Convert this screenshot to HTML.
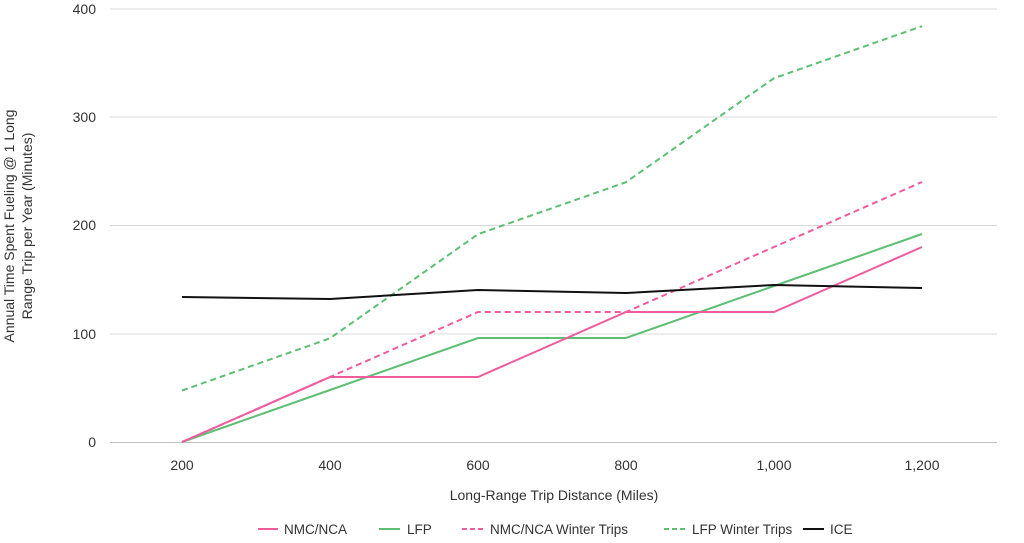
<!DOCTYPE html>
<html><head><meta charset="utf-8"><style>
body{margin:0;background:#fff;}
svg{display:block;font-family:"Liberation Sans",Arial,sans-serif;}
</style></head><body>
<svg width="1024" height="543" viewBox="0 0 1024 543">
<g stroke="#d9d9d9" stroke-width="1">
<line x1="110" y1="9" x2="997" y2="9"/>
<line x1="110" y1="117" x2="997" y2="117"/>
<line x1="110" y1="225.5" x2="997" y2="225.5"/>
<line x1="110" y1="334" x2="997" y2="334"/>
</g>
<line x1="110" y1="442.5" x2="997" y2="442.5" stroke="#bfbfbf" stroke-width="1"/>
<g font-size="14" fill="#333" text-anchor="end">
<text x="96" y="14">400</text>
<text x="96" y="122">300</text>
<text x="96" y="230">200</text>
<text x="96" y="339">100</text>
<text x="96" y="447">0</text>
</g>
<g font-size="14" fill="#333" text-anchor="middle">
<text x="182" y="470">200</text>
<text x="330" y="470">400</text>
<text x="478" y="470">600</text>
<text x="626" y="470">800</text>
<text x="774" y="470">1,000</text>
<text x="922" y="470">1,200</text>
<text x="554" y="500">Long-Range Trip Distance (Miles)</text>
</g>
<g font-size="14" fill="#333" text-anchor="middle" transform="translate(14,226) rotate(-90)">
<text x="0" y="0">Annual Time Spent Fueling @ 1 Long</text>
<text x="0" y="18">Range Trip per Year (Minutes)</text>
</g>
<g fill="none" stroke-width="2">
<polyline stroke="#5cbf73" stroke-dasharray="6,4" points="182,390.5 330,338.3 478,234.2 626,182.2 774,78.2 922,26.2"/>
<polyline stroke="#ef5b9c" stroke-dasharray="6,4" points="182,442 330,377 478,312 626,312 774,247 922,182"/>
<polyline stroke="#5cbf73" points="182,442 330,390 478,338 626,338 774,286 922,234"/>
<polyline stroke="#ef5b9c" points="182,442 330,377 478,377 626,312 774,312 922,247"/>
<polyline stroke="#111" points="182,297 330,299 478,290 626,293 774,285 922,288"/>
</g>
<g font-size="13.5" fill="#333">
<line x1="258" y1="529" x2="278" y2="529" stroke="#ef5b9c" stroke-width="2"/>
<text x="284" y="534">NMC/NCA</text>
<line x1="379" y1="529" x2="400" y2="529" stroke="#5cbf73" stroke-width="2"/>
<text x="407" y="534">LFP</text>
<line x1="462" y1="529" x2="483" y2="529" stroke="#ef5b9c" stroke-width="2" stroke-dasharray="5,3"/>
<text x="490" y="534">NMC/NCA Winter Trips</text>
<line x1="664" y1="529" x2="685" y2="529" stroke="#5cbf73" stroke-width="2" stroke-dasharray="5,3"/>
<text x="692" y="534">LFP Winter Trips</text>
<line x1="803" y1="529" x2="824" y2="529" stroke="#111" stroke-width="2"/>
<text x="830" y="534">ICE</text>
</g>
</svg>
</body></html>
